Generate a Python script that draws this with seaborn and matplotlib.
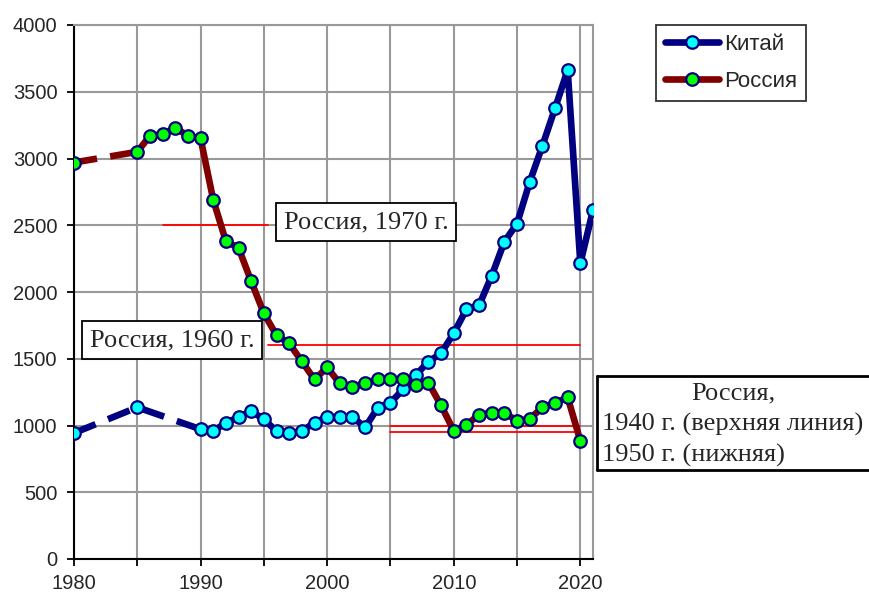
import numpy as np
import pandas as pd
import seaborn as sns
import matplotlib.pyplot as plt
from matplotlib.lines import Line2D
from matplotlib.patches import Rectangle

# Data
china_years = [1980, 1985, 1990, 1991, 1992, 1993, 1994, 1995, 1996, 1997, 1998,
               1999, 2000, 2001, 2002, 2003, 2004, 2005, 2006, 2007, 2008, 2009,
               2010, 2011, 2012, 2013, 2014, 2015, 2016, 2017, 2018, 2019, 2020, 2021]
china_vals = [944, 1136, 972, 957, 1021, 1061, 1109, 1046, 957, 942, 959,
              1021, 1064, 1061, 1064, 986, 1133, 1171, 1271, 1378, 1478, 1541,
              1691, 1870, 1900, 2122, 2377, 2512, 2824, 3094, 3376, 3663, 2215, 2614]

russia_years = [1980, 1985, 1986, 1987, 1988, 1989, 1990, 1991, 1992, 1993, 1994,
                1995, 1996, 1997, 1998, 1999, 2000, 2001, 2002, 2003, 2004, 2005,
                2006, 2007, 2008, 2009, 2010, 2011, 2012, 2013, 2014, 2015, 2016,
                2017, 2018, 2019, 2020]
russia_vals = [2970, 3050, 3170, 3180, 3230, 3170, 3150, 2690, 2380, 2330, 2080,
               1840, 1675, 1615, 1480, 1345, 1435, 1315, 1285, 1320, 1345, 1345,
               1345, 1300, 1320, 1150, 960, 1005, 1080, 1095, 1095, 1035, 1050,
               1135, 1170, 1210, 885]

# last year of sparse (dashed) data for each series
china_gap_end = 1990
russia_gap_end = 1985

ref_levels = [2500, 1600, 995, 950]
ref_spans = [(1987, 1995.3), (1995.3, 2020), (2005, 2020), (2005, 2020)]

series_names = ["Китай", "Россия"]

china = pd.DataFrame({"year": china_years, "value": china_vals})
russia = pd.DataFrame({"year": russia_years, "value": russia_vals})

sns.set_theme(style="white")
plt.rcParams["font.family"] = ["Liberation Sans", "DejaVu Sans"]

navy = "#000080"
maroon = "#800000"
dash = (0, (3.5, 2))

fig = plt.figure(figsize=(8.69, 5.93), dpi=100)
ax = fig.add_axes([74 / 869, 1 - 559 / 593, (593 - 74) / 869, (559 - 25) / 593])

# reference lines
for lev, (x0, x1) in zip(ref_levels, ref_spans):
    ax.plot([x0, x1], [lev, lev], color="red", lw=1.3, zorder=2)

mk = dict(marker="o", markersize=9, markeredgewidth=1.6, markeredgecolor=navy)

# China
c_sparse = china[china["year"] <= china_gap_end]
c_dense = china[china["year"] >= china_gap_end]
sns.lineplot(data=c_sparse, x="year", y="value", ax=ax, color=navy, lw=4.8,
             linestyle=dash, errorbar=None, zorder=3)
sns.lineplot(data=c_dense, x="year", y="value", ax=ax, color=navy, lw=4.8,
             errorbar=None, zorder=3)
ax.plot(china["year"], china["value"], ls="none", markerfacecolor="#00FFFF",
        zorder=4, **mk)

# Russia
r_sparse = russia[russia["year"] <= russia_gap_end]
r_dense = russia[russia["year"] >= russia_gap_end]
sns.lineplot(data=r_sparse, x="year", y="value", ax=ax, color=maroon, lw=4.8,
             linestyle=dash, errorbar=None, zorder=5)
sns.lineplot(data=r_dense, x="year", y="value", ax=ax, color=maroon, lw=4.8,
             errorbar=None, zorder=5)
ax.plot(russia["year"], russia["value"], ls="none", markerfacecolor="#00FF00",
        zorder=6, **mk)

ax.set_xlim(1980, 2021)
ax.set_ylim(0, 4000)
ax.set_xticks(np.arange(1980, 2021, 10))
ax.set_xticks(np.arange(1985, 2021, 10), minor=True)
ax.set_yticks(np.arange(0, 4001, 500))
ax.set_xlabel("")
ax.set_ylabel("")
ax.grid(True, which="both", axis="x", color="#999999", lw=1.5, zorder=0)
ax.grid(True, which="major", axis="y", color="#999999", lw=1.5, zorder=0)
ax.set_axisbelow(True)
for s in ["left", "bottom"]:
    ax.spines[s].set_color("black")
    ax.spines[s].set_linewidth(1.5)
for s in ["top", "right"]:
    ax.spines[s].set_color("#999999")
    ax.spines[s].set_linewidth(1.5)
ax.tick_params(axis="both", which="both", direction="out", length=5, width=1.3,
               color="black", labelsize=14.5, left=True, bottom=True)
ax.tick_params(axis="y", pad=7)
ax.tick_params(axis="x", pad=6)

# text boxes
serif = ["Liberation Serif", "DejaVu Serif"]
box = dict(boxstyle="square,pad=0.3", fc="white", ec="black", lw=1.3)
fig.text(366 / 869, 1 - 222 / 593, "Россия, 1970 г.", family=serif, fontsize=19,
         ha="center", va="center", bbox=box, zorder=10)
fig.text(172 / 869, 1 - 340 / 593, "Россия, 1960 г.", family=serif, fontsize=19,
         ha="center", va="center", bbox=box, zorder=10)

# third box runs off the right edge of the picture: no right border
bx0, by0, by1 = 597 / 869, 1 - 470 / 593, 1 - 376 / 593
fig.patches.append(Rectangle((bx0, by0), 0.6, by1 - by0,
                             transform=fig.transFigure, fc="white", ec="none",
                             zorder=9))
for xs, ys in [([bx0, 1.3], [by1, by1]), ([bx0, 1.3], [by0, by0]), ([bx0, bx0], [by0, by1])]:
    fig.lines.append(Line2D(xs, ys, transform=fig.transFigure, color="black",
                            lw=2, zorder=9.5))
fig.text(733 / 869, 1 - 393 / 593, "Россия,", family=serif, fontsize=19,
         ha="center", va="center", zorder=10)
fig.text(602 / 869, 1 - 424 / 593, "1940 г. (верхняя линия)", family=serif,
         fontsize=19, ha="left", va="center", zorder=10)
fig.text(602 / 869, 1 - 455 / 593, "1950 г. (нижняя)", family=serif,
         fontsize=19, ha="left", va="center", zorder=10)

# legend
handles = [
    Line2D([], [], color=navy, lw=4.8, markerfacecolor="#00FFFF", **mk),
    Line2D([], [], color=maroon, lw=4.8, markerfacecolor="#00FF00", **mk),
]
leg = fig.legend(handles, series_names, loc="upper left",
                 bbox_to_anchor=(656 / 869, 1 - 25 / 593), fontsize=16,
                 frameon=True, fancybox=False, edgecolor="black",
                 handlelength=2.45, handletextpad=0.2, labelspacing=0.72,
                 borderpad=0.4, borderaxespad=0)
leg.get_frame().set_linewidth(1.3)

fig.savefig("out.png", dpi=100)
